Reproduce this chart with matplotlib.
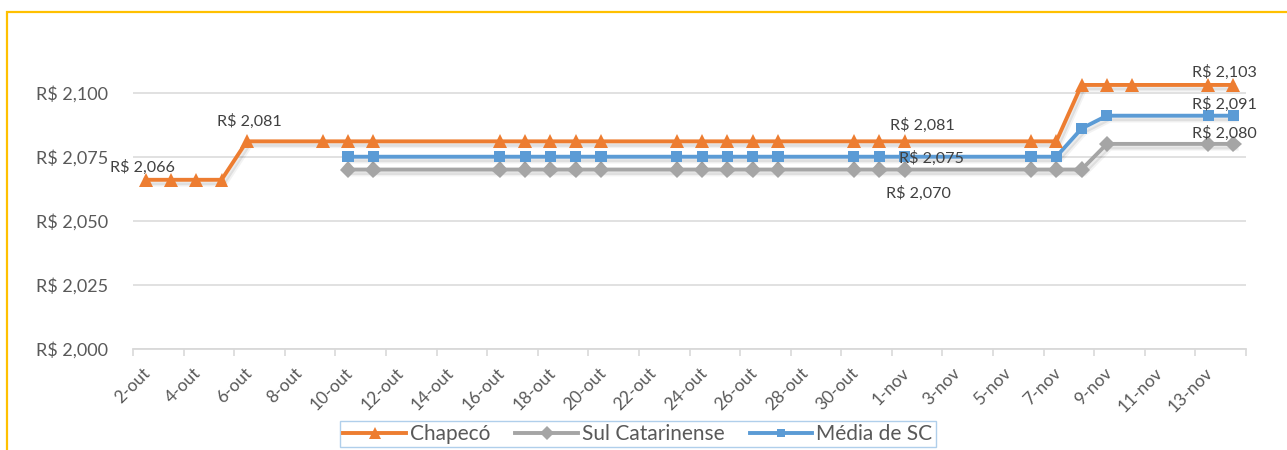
import matplotlib
matplotlib.use("Agg")
import matplotlib.pyplot as plt
import matplotlib.dates as mdates
import matplotlib.patheffects as pe
from matplotlib.patches import Rectangle
from matplotlib.lines import Line2D
from matplotlib.ticker import FixedLocator, FuncFormatter
from matplotlib.transforms import ScaledTranslation
import numpy as np
import datetime as dt

# ---------------- data ----------------
dates = ["2017-10-02", "2017-10-03", "2017-10-04", "2017-10-05", "2017-10-06",
         "2017-10-09", "2017-10-10", "2017-10-11",
         "2017-10-16", "2017-10-17", "2017-10-18", "2017-10-19", "2017-10-20",
         "2017-10-23", "2017-10-24", "2017-10-25", "2017-10-26", "2017-10-27",
         "2017-10-30", "2017-10-31", "2017-11-01",
         "2017-11-06", "2017-11-07", "2017-11-08", "2017-11-09", "2017-11-10",
         "2017-11-13", "2017-11-14"]

chapeco = [2.066, 2.066, 2.066, 2.066, 2.081,
           2.081, 2.081, 2.081,
           2.081, 2.081, 2.081, 2.081, 2.081,
           2.081, 2.081, 2.081, 2.081, 2.081,
           2.081, 2.081, 2.081,
           2.081, 2.081, 2.103, 2.103, 2.103,
           2.103, 2.103]

sul_catarinense = [None, None, None, None, None,
                   None, 2.070, 2.070,
                   2.070, 2.070, 2.070, 2.070, 2.070,
                   2.070, 2.070, 2.070, 2.070, 2.070,
                   2.070, 2.070, 2.070,
                   2.070, 2.070, 2.070, 2.080, None,
                   2.080, 2.080]

media_sc = [None, None, None, None, None,
            None, 2.075, 2.075,
            2.075, 2.075, 2.075, 2.075, 2.075,
            2.075, 2.075, 2.075, 2.075, 2.075,
            2.075, 2.075, 2.075,
            2.075, 2.075, 2.086, 2.091, None,
            2.091, 2.091]

series_names = ["Chapecó", "Sul Catarinense", "Média de SC"]
y_ticks = [2.000, 2.025, 2.050, 2.075, 2.100]
x_ticks = ["2017-10-02", "2017-10-04", "2017-10-06", "2017-10-08", "2017-10-10",
           "2017-10-12", "2017-10-14", "2017-10-16", "2017-10-18", "2017-10-20",
           "2017-10-22", "2017-10-24", "2017-10-26", "2017-10-28", "2017-10-30",
           "2017-11-01", "2017-11-03", "2017-11-05", "2017-11-07", "2017-11-09",
           "2017-11-11", "2017-11-13", "2017-11-15"]
meses = {10: "out", 11: "nov"}

# ---------------- figure ----------------
plt.rcParams["font.family"] = ["Lato", "DejaVu Sans"]
W, H = 1287, 450
fig = plt.figure(figsize=(W / 100, H / 100), dpi=100)
fig.patch.set_facecolor("white")
ax = fig.add_axes([133 / W, (H - 349) / H, (1246 - 133) / W, (349 - 67) / H])

def to_num(s):
    return mdates.date2num(dt.datetime.strptime(s, "%Y-%m-%d"))

xd = np.array([to_num(d) for d in dates]) + 0.5  # points centred in day bins

colors = {"Chapecó": "#ED7D31", "Sul Catarinense": "#A5A5A5", "Média de SC": "#5B9BD5"}
markers = {"Chapecó": ("^", 10), "Sul Catarinense": ("D", 8.5), "Média de SC": ("s", 8)}
shadow = [pe.SimpleLineShadow(offset=(1.5, -2.5), shadow_color="black", alpha=0.08),
          pe.SimpleLineShadow(offset=(2.5, -3.5), shadow_color="black", alpha=0.05),
          pe.Normal()]

data = {"Chapecó": chapeco, "Sul Catarinense": sul_catarinense, "Média de SC": media_sc}
# draw order: gray, blue, orange on top
for name in ["Sul Catarinense", "Média de SC", "Chapecó"]:
    vals = np.array([np.nan if v is None else v for v in data[name]], dtype=float)
    m = ~np.isnan(vals)
    mk, ms = markers[name]
    ax.plot(xd[m], vals[m], color=colors[name], lw=2.8, marker=mk, ms=ms,
            markeredgewidth=0, solid_joinstyle="round", path_effects=shadow, zorder=3)

# axes styling
ax.set_xlim(to_num("2017-10-02"), to_num("2017-11-15"))
ax.set_ylim(2.000, 2.110)
ax.set_yticks(y_ticks)
ax.yaxis.set_major_formatter(FuncFormatter(lambda v, p: ("R$ %.3f" % v).replace(".", ",")))
ax.grid(axis="y", color="#D9D9D9", lw=1.1)
ax.set_axisbelow(True)
for s in ["top", "right", "left"]:
    ax.spines[s].set_visible(False)
ax.spines["bottom"].set_color("#D9D9D9")
ax.spines["bottom"].set_linewidth(1.3)
ax.tick_params(axis="y", length=0, pad=18, labelsize=13, labelcolor="#595959")

xt = [to_num(t) for t in x_ticks]
ax.xaxis.set_major_locator(FixedLocator(xt))
def xfmt(v, p):
    d = mdates.num2date(v)
    if v >= xt[-1] - 0.01:
        return ""
    return "%d-%s" % (d.day, meses[d.month])
ax.xaxis.set_major_formatter(FuncFormatter(xfmt))
ax.tick_params(axis="x", length=5, width=1.2, color="#D9D9D9", pad=4,
               labelsize=12.5, labelcolor="#595959")
for lab in ax.get_xticklabels():
    lab.set_rotation(45)
    lab.set_ha("right")
    lab.set_va("center")
    lab.set_rotation_mode("anchor")
    lab.set_transform(lab.get_transform() + ScaledTranslation(15 / 100, -9 / 100, fig.dpi_scale_trans))

# data labels
def fmt(v):
    return ("R$ %.3f" % v).replace(".", ",")

labels = [
    ("Chapecó", 0, -3, 12),
    ("Chapecó", 4, 3, 20),
    ("Chapecó", 20, 18, 16),
    ("Média de SC", 20, 27, -2),
    ("Sul Catarinense", 20, 14, -24),
    ("Chapecó", 27, -9, 13),
    ("Média de SC", 27, -9, 11),
    ("Sul Catarinense", 27, -9, 11),
]
for name, i, dx, dy in labels:
    v = data[name][i]
    ax.annotate(fmt(v), xy=(xd[i], v), xytext=(dx, dy), textcoords="offset pixels",
                ha="center", va="center", fontsize=11.6, color="#404040", zorder=5)

# legend
handles = [Line2D([], [], color=colors[n], lw=2.8, marker=markers[n][0],
                  ms=markers[n][1] * 0.8, markeredgewidth=0) for n in series_names]
leg = fig.legend(handles, series_names, loc="center", bbox_to_anchor=(638 / W, 1 - 434 / H),
                 ncol=3, frameon=True, fancybox=False, fontsize=15, handlelength=3.0,
                 handletextpad=0.2, columnspacing=1.2, borderpad=0.15)
leg.get_frame().set_edgecolor("#9DC3E6")
leg.get_frame().set_linewidth(1.0)
for t in leg.get_texts():
    t.set_color("#595959")

# outer border (chart area)
fig.add_artist(Rectangle((7 / W, -0.1), 1.2, (H - 12) / H + 0.1, transform=fig.transFigure,
                         fill=False, edgecolor="#FFC000", lw=1.6, zorder=10))

fig.savefig("out.png", dpi=100)
